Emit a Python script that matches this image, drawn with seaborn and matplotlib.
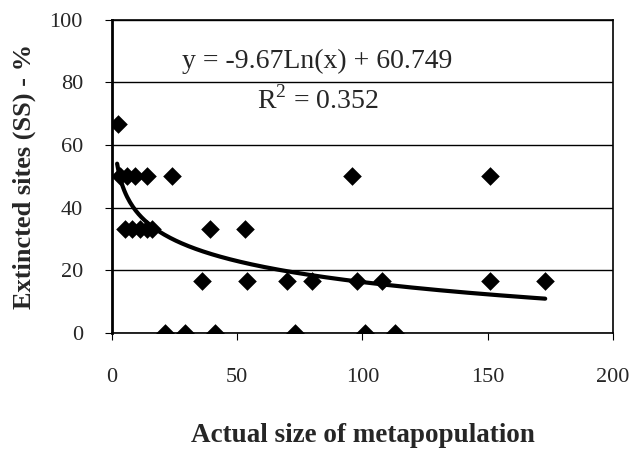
import numpy as np
import pandas as pd
import matplotlib
matplotlib.use("Agg")
import matplotlib.pyplot as plt
import seaborn as sns

# values
size_50 = [3, 6, 9, 14, 24, 96, 151]
size_33 = [5, 8, 11, 14, 16, 39, 53]
size_17 = [36, 54, 70, 80, 98, 108, 151, 173]
size_0 = [21, 29, 41, 73, 101, 113]
size_67 = [2.4]

x_vals = size_67 + size_50 + size_33 + size_17 + size_0
y_vals = ([66.7] * len(size_67) + [50] * len(size_50) + [33.3] * len(size_33)
          + [16.7] * len(size_17) + [0] * len(size_0))

# trend line given on the chart
slope = -9.67
intercept = 60.749
r2 = 0.352

df = pd.DataFrame({"size": x_vals, "extinct": y_vals})

sns.set_style("white")
plt.rcParams["font.family"] = ["Liberation Serif", "DejaVu Serif"]
plt.rcParams["mathtext.fontset"] = "custom"
plt.rcParams["mathtext.rm"] = "Liberation Serif"

fig = plt.figure(figsize=(6.37, 4.51), dpi=100)
ax = fig.add_axes([0.176, 0.262, 0.786, 0.694])

sns.scatterplot(data=df, x="size", y="extinct", marker="D", s=90, color="black",
                edgecolor="black", linewidth=0, ax=ax, zorder=3)

xs = np.linspace(2, 173, 300)
ax.plot(xs, slope * np.log(xs) + intercept, color="black", lw=3, zorder=2)

ax.set_xlim(0, 200)
ax.set_ylim(0, 100)
ax.set_xticks([0, 50, 100, 150, 200])
ax.set_yticks([0, 20, 40, 60, 80, 100])
ax.yaxis.grid(True, color="black", lw=1)
ax.set_axisbelow(True)
for s in ax.spines.values():
    s.set_visible(True)
    s.set_color("black")
    s.set_linewidth(1.2)
ax.spines["left"].set_linewidth(2)
ax.tick_params(axis="both", labelsize=16, length=5, color="black",
               direction="out", bottom=True, left=True)
ax.tick_params(axis="x", pad=20)
ax.tick_params(axis="y", pad=16)

ax.set_xlabel("Actual size of metapopulation", fontsize=19.5, fontweight="bold",
              labelpad=26)
ax.set_ylabel("Extincted sites (SS) - %", fontsize=19, fontweight="bold",
              labelpad=10)

ax.text(82, 86.6, f"y = {slope}Ln(x) + {intercept}", fontsize=20,
        ha="center", va="center")
ax.text(82, 74.4, f"R$^2$ = {r2}", fontsize=20, ha="center", va="center")

fig.savefig("out.png", dpi=100)
